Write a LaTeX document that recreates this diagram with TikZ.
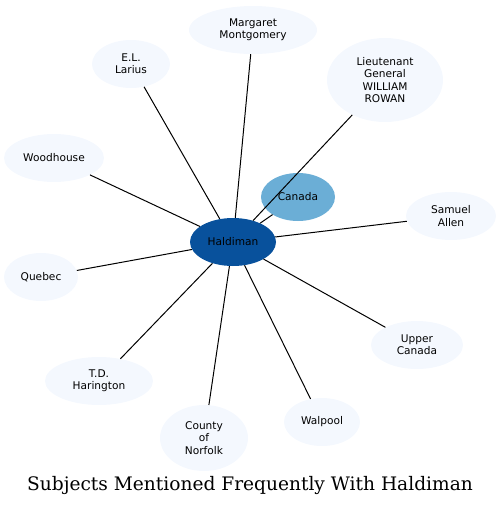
\documentclass[tikz,border=0pt]{standalone}
\usepackage{fontspec}
\setmainfont{DejaVu Serif}
\newfontfamily\nodefont{DejaVu Sans}
\usepackage{tikz}
\usetikzlibrary{shapes.geometric}
\definecolor{hubblue}{HTML}{08519C}
\definecolor{midblue}{HTML}{6BAED6}
\definecolor{paleblue}{HTML}{F4F8FE}
\tikzset{
  subj/.style={ellipse, draw=none, fill=paleblue, inner sep=0pt, align=center,
    font=\nodefont\fontsize{10.6}{12.2}\selectfont},
  hub/.style={subj, fill=hubblue},
  near/.style={subj, fill=midblue},
  link/.style={black, line width=1pt}
}
\begin{document}
\begin{tikzpicture}[x=1pt, y=-1pt]
  \useasboundingbox (0,0) rectangle (501,507);
  % nodes
  \node[hub, minimum width=86pt, minimum height=48pt] (hald) at (233,242) {Haldiman};
  \node[near, minimum width=74pt, minimum height=48pt] (canada) at (298,197) {Canada};
  \node[subj, minimum width=128pt, minimum height=48pt] (marg) at (253,30) {Margaret\\Montgomery};
  \node[subj, minimum width=78pt, minimum height=48pt] (larius) at (131,64) {E.L.\\Larius};
  \node[subj, minimum width=116pt, minimum height=84pt] (rowan) at (385,80) {Lieutenant\\General\\WILLIAM\\ROWAN};
  \node[subj, minimum width=100pt, minimum height=48pt] (wood) at (54,158) {Woodhouse};
  \node[subj, minimum width=90pt, minimum height=48pt] (allen) at (451,216) {Samuel\\Allen};
  \node[subj, minimum width=74pt, minimum height=48pt] (quebec) at (41,277) {Quebec};
  \node[subj, minimum width=92pt, minimum height=48pt] (upper) at (417,345) {Upper\\Canada};
  \node[subj, minimum width=108pt, minimum height=48pt] (hari) at (99,381) {T.D.\\Harington};
  \node[subj, minimum width=88pt, minimum height=66pt] (norf) at (204,438) {County\\of\\Norfolk};
  \node[subj, minimum width=76pt, minimum height=48pt] (walp) at (322,422) {Walpool};

  % edges
  \foreach \t in {canada, marg, larius, rowan, wood, allen, quebec, upper, hari, norf, walp}
    \draw[link] (hald) -- (\t);

  \node[font=\fontsize{18.6}{22}\selectfont] (title) at (250,485) {Subjects Mentioned Frequently With Haldiman};
\end{tikzpicture}
\end{document}
